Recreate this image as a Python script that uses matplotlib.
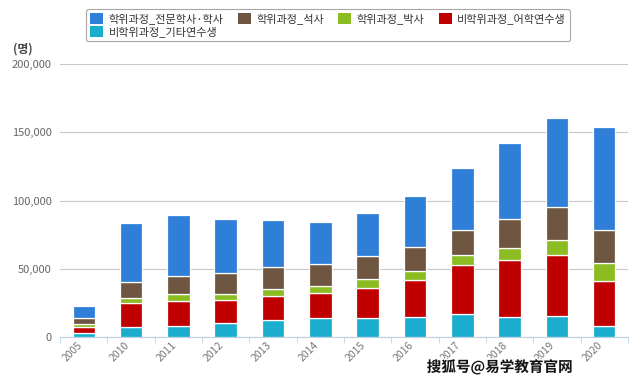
import matplotlib
matplotlib.use("Agg")
import matplotlib.pyplot as plt
import matplotlib.patheffects as pe
from matplotlib.patches import Patch
import numpy as np

plt.rcParams['font.family'] = ['Noto Sans CJK KR', 'DejaVu Sans']

years = ["2005", "2010", "2011", "2012", "2013", "2014", "2015", "2016", "2017", "2018", "2019", "2020"]
series_names = ["학위과정_전문학사·학사", "학위과정_석사", "학위과정_박사", "비학위과정_어학연수생", "비학위과정_기타연수생"]

bachelor = [8600, 43200, 44200, 39800, 34700, 31200, 31700, 37600, 45400, 55500, 65000, 75338]
master = [4600, 12200, 13400, 15200, 16100, 15900, 16800, 17400, 18300, 21300, 24000, 24467]
doctor = [1700, 3700, 4900, 4400, 4900, 5300, 6800, 6800, 7100, 9200, 11200, 13198]
language = [4800, 17400, 18300, 17100, 17600, 18300, 21500, 27100, 36100, 41700, 44800, 32315]
other = [2700, 7300, 8300, 10000, 12500, 13700, 14100, 14700, 16600, 14500, 15165, 8377]

colors = ["#2f7ed8", "#6e5641", "#8bbc21", "#c00000", "#1aadce"]

fig = plt.figure(figsize=(6.4, 3.81), dpi=100)
ax = fig.add_axes([0.094, 0.1155, 0.887, 0.7165])

x = np.arange(len(years))
stack = [other, language, doctor, master, bachelor]
stack_colors = [colors[4], colors[3], colors[2], colors[1], colors[0]]
bottom = np.zeros(len(years))
for vals, c in zip(stack, stack_colors):
    v = np.array(vals, dtype=float)
    ax.bar(x, v, bottom=bottom, width=0.475, color=c, edgecolor="white", linewidth=0.9, zorder=3)
    bottom += v

ax.set_xlim(-0.5, 11.5)
ax.set_ylim(0, 200000)
ax.set_yticks([0, 50000, 100000, 150000, 200000])
ax.set_yticklabels(["0", "50,000", "100,000", "150,000", "200,000"], fontsize=8, color="#666666")
ax.yaxis.grid(True, color="#c8c8c8", linewidth=0.8, zorder=0)
ax.tick_params(axis="y", length=0, pad=6)

ax.set_xticks(x)
ax.set_xticklabels(years, rotation=45, fontsize=7.5, color="#777777", ha="right", va="top",
                   rotation_mode="default")
ax.set_xticks(np.arange(-0.5, 12, 1), minor=True)
ax.tick_params(axis="x", which="major", length=0, pad=2)
ax.tick_params(axis="x", which="minor", length=4, color="#c0d0e0")

for s in ["top", "right", "left"]:
    ax.spines[s].set_visible(False)
ax.spines["bottom"].set_color("#c0d0e0")

fig.text(0.02, 0.862, "(명)", fontsize=8.5, color="#444444", fontweight="bold")

handles = [Patch(facecolor=c, edgecolor="none") for c in colors]
order = [0, 4, 1, 2, 3]
leg = fig.legend([handles[i] for i in order], [series_names[i] for i in order],
                 loc="upper left", bbox_to_anchor=(0.126, 0.99),
                 ncol=4, fontsize=8, frameon=True, handlelength=1.15, handleheight=1.15,
                 columnspacing=1.3, handletextpad=0.5, labelspacing=0.1, borderpad=0.35,
                 fancybox=True)
leg.get_frame().set_edgecolor("#909090")
leg.get_frame().set_linewidth(0.8)
for t in leg.get_texts():
    t.set_color("#333333")

wm = fig.text(0.781, 0.036, "搜狐号@易学教育官网", fontsize=10.5, fontweight="bold", color="#111111",
              ha="center", va="center", family=["Noto Sans CJK SC", "DejaVu Sans"])
wm.set_path_effects([pe.withStroke(linewidth=2, foreground="white")])

fig.savefig("out.png", dpi=100)
